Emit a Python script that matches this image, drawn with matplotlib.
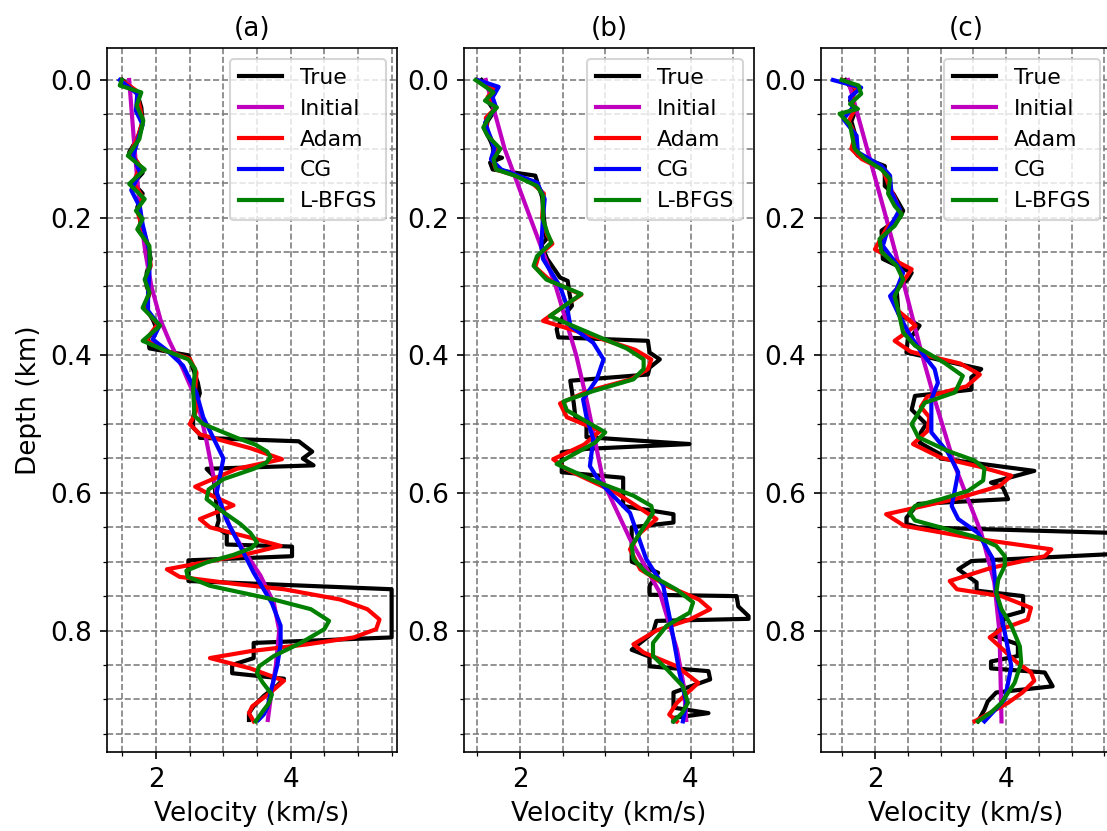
import matplotlib.pyplot as plt
from matplotlib.ticker import MultipleLocator

# ---------------- panel (a) ----------------
a_true_z = [0.000, 0.010, 0.020, 0.040, 0.060, 0.080, 0.095, 0.105, 0.120, 0.135, 0.150, 0.165,
            0.185, 0.200, 0.220, 0.240, 0.260, 0.280, 0.300, 0.310, 0.330, 0.350, 0.360, 0.375,
            0.390, 0.400, 0.420, 0.440, 0.455, 0.470, 0.490, 0.505, 0.515, 0.520, 0.525, 0.540,
            0.550, 0.560, 0.565, 0.575, 0.600, 0.620, 0.640, 0.650, 0.660, 0.675, 0.678, 0.692,
            0.698, 0.728, 0.740, 0.810, 0.818, 0.840, 0.850, 0.862, 0.870, 0.880, 0.895, 0.910,
            0.920, 0.930]
a_true_v = [1.50, 1.62, 1.72, 1.78, 1.80, 1.74, 1.66, 1.60, 1.72, 1.80, 1.66, 1.80,
            1.72, 1.76, 1.78, 1.88, 1.92, 1.86, 1.86, 1.90, 1.84, 1.96, 2.00, 1.88,
            1.90, 2.48, 2.55, 2.62, 2.65, 2.60, 2.55, 2.55, 2.65, 2.65, 4.12, 4.32,
            4.18, 4.34, 2.75, 2.85, 2.88, 2.90, 2.93, 2.90, 3.05, 3.05, 4.02, 4.02,
            2.48, 2.48, 5.50, 5.50, 3.45, 3.45, 3.13, 3.13, 3.90, 3.80, 3.60, 3.45,
            3.38, 3.38]

a_init_z = [0.00, 0.10, 0.20, 0.25, 0.30, 0.35, 0.38, 0.42, 0.47, 0.52, 0.55, 0.60, 0.65,
            0.68, 0.72, 0.76, 0.80, 0.85, 0.90, 0.93]
a_init_v = [1.60, 1.68, 1.77, 1.84, 1.93, 2.07, 2.20, 2.40, 2.62, 2.74, 2.80, 2.90, 3.10,
            3.28, 3.55, 3.75, 3.83, 3.78, 3.70, 3.66]

a_adam_z = [0.000, 0.015, 0.040, 0.060, 0.085, 0.105, 0.125, 0.150, 0.170, 0.190, 0.210, 0.240,
            0.270, 0.290, 0.310, 0.330, 0.355, 0.378, 0.392, 0.405, 0.425, 0.450, 0.470, 0.485,
            0.500, 0.515, 0.535, 0.551, 0.565, 0.591, 0.605, 0.618, 0.638, 0.650, 0.665, 0.677,
            0.690, 0.711, 0.722, 0.732, 0.740, 0.755, 0.769, 0.784, 0.798, 0.810, 0.820, 0.830,
            0.840, 0.855, 0.873, 0.890, 0.910, 0.920, 0.932]
a_adam_v = [1.48, 1.70, 1.76, 1.80, 1.72, 1.62, 1.76, 1.66, 1.80, 1.72, 1.78, 1.88,
            1.92, 1.84, 1.90, 1.82, 2.02, 1.85, 2.10, 2.50, 2.60, 2.58, 2.62, 2.58,
            2.50, 2.65, 3.40, 3.87, 3.20, 2.58, 2.85, 3.15, 2.65, 2.80, 3.40, 3.85,
            3.30, 2.16, 2.35, 3.15, 3.90, 4.74, 5.14, 5.32, 5.27, 4.94, 4.25, 3.40,
            2.80, 3.40, 3.90, 3.70, 3.43, 3.38, 3.45]

a_cg_z = [0.000, 0.020, 0.045, 0.065, 0.090, 0.110, 0.135, 0.160, 0.185, 0.210, 0.250, 0.280,
          0.310, 0.335, 0.357, 0.377, 0.392, 0.415, 0.455, 0.490, 0.520, 0.550, 0.600, 0.640,
          0.687, 0.716, 0.760, 0.793, 0.820, 0.851, 0.890, 0.910, 0.922, 0.930]
a_cg_v = [1.46, 1.72, 1.70, 1.80, 1.72, 1.66, 1.76, 1.63, 1.76, 1.80, 1.90, 1.90,
          1.88, 1.88, 2.05, 1.95, 2.15, 2.40, 2.60, 2.70, 2.85, 3.00, 2.90, 3.05,
          3.30, 3.45, 3.72, 3.85, 3.85, 3.80, 3.70, 3.66, 3.60, 3.52]

a_lbfgs_z = [0.000, 0.008, 0.018, 0.037, 0.059, 0.086, 0.110, 0.130, 0.151, 0.173, 0.190, 0.202,
             0.217, 0.241, 0.270, 0.290, 0.309, 0.331, 0.357, 0.379, 0.394, 0.406, 0.420, 0.450,
             0.488, 0.500, 0.510, 0.520, 0.530, 0.540, 0.548, 0.556, 0.565, 0.580, 0.595, 0.609,
             0.628, 0.645, 0.658, 0.672, 0.680, 0.690, 0.701, 0.713, 0.722, 0.735, 0.755, 0.769,
             0.786, 0.798, 0.818, 0.837, 0.852, 0.862, 0.875, 0.893, 0.905, 0.918, 0.932]
a_lbfgs_v = [1.49, 1.46, 1.78, 1.71, 1.81, 1.75, 1.58, 1.83, 1.60, 1.83, 1.70, 1.80,
             1.72, 1.90, 1.91, 1.83, 1.90, 1.80, 2.06, 1.80, 2.16, 2.48, 2.58, 2.55,
             2.57, 2.70, 2.95, 3.20, 3.48, 3.65, 3.70, 3.64, 3.45, 3.00, 2.78, 2.75,
             3.00, 3.25, 3.40, 3.50, 3.42, 3.15, 2.75, 2.45, 2.47, 2.80, 3.75, 4.30,
             4.57, 4.50, 4.15, 3.75, 3.53, 3.50, 3.58, 3.72, 3.68, 3.58, 3.48]

# ---------------- panel (b) ----------------
b_true_z = [0.000, 0.010, 0.020, 0.030, 0.045, 0.060, 0.075, 0.090, 0.100, 0.110, 0.113, 0.120,
            0.130, 0.139, 0.155, 0.170, 0.200, 0.231, 0.240, 0.260, 0.287, 0.292, 0.310, 0.328,
            0.345, 0.362, 0.374, 0.379, 0.396, 0.406, 0.418, 0.428, 0.437, 0.469, 0.490, 0.502,
            0.519, 0.529, 0.536, 0.541, 0.570, 0.578, 0.619, 0.631, 0.643, 0.650, 0.700, 0.716,
            0.735, 0.748, 0.750, 0.765, 0.779, 0.783, 0.786, 0.803, 0.828, 0.838, 0.852, 0.859,
            0.871, 0.890, 0.912, 0.920, 0.927, 0.932]
b_true_v = [1.55, 1.62, 1.70, 1.62, 1.70, 1.62, 1.60, 1.66, 1.69, 1.68, 1.79, 1.65,
            1.68, 2.18, 2.22, 2.26, 2.28, 2.31, 2.25, 2.32, 2.47, 2.56, 2.58, 2.61,
            2.50, 2.43, 2.45, 3.50, 3.52, 3.64, 3.52, 3.50, 2.59, 2.63, 2.65, 2.78,
            2.78, 3.99, 2.78, 2.49, 2.49, 3.21, 3.21, 3.80, 3.80, 3.31, 3.31, 3.62,
            3.52, 3.52, 4.54, 4.56, 4.68, 4.68, 3.60, 3.56, 3.31, 3.52, 3.52, 4.21,
            4.23, 3.80, 3.80, 4.21, 3.80, 3.80]

b_init_z = [0.00, 0.10, 0.20, 0.30, 0.40, 0.464, 0.50, 0.585, 0.667, 0.745, 0.827, 0.88, 0.93]
b_init_v = [1.60, 1.82, 2.12, 2.42, 2.66, 2.78, 2.84, 2.98, 3.29, 3.64, 3.84, 3.92, 3.95]

b_adam_z = [0.000, 0.012, 0.025, 0.040, 0.055, 0.075, 0.100, 0.115, 0.130, 0.145, 0.165, 0.200,
            0.225, 0.238, 0.255, 0.272, 0.292, 0.312, 0.330, 0.350, 0.372, 0.392, 0.406, 0.420,
            0.435, 0.452, 0.470, 0.490, 0.510, 0.530, 0.551, 0.566, 0.600, 0.638, 0.658, 0.682,
            0.711, 0.735, 0.755, 0.769, 0.784, 0.800, 0.820, 0.832, 0.852, 0.876, 0.905, 0.922,
            0.932]
b_adam_v = [1.50, 1.70, 1.62, 1.72, 1.60, 1.62, 1.72, 1.68, 1.72, 2.10, 2.28, 2.26,
            2.32, 2.38, 2.22, 2.18, 2.36, 2.72, 2.50, 2.27, 2.85, 3.35, 3.54, 3.50,
            3.30, 2.80, 2.47, 2.55, 2.94, 2.75, 2.39, 2.55, 3.13, 3.60, 3.41, 3.29,
            3.41, 3.72, 4.10, 4.23, 3.99, 3.60, 3.33, 3.45, 3.84, 4.09, 3.84, 3.75,
            3.84]

b_cg_z = [0.000, 0.010, 0.025, 0.040, 0.062, 0.085, 0.100, 0.115, 0.130, 0.149, 0.173, 0.200,
          0.241, 0.260, 0.300, 0.328, 0.357, 0.382, 0.406, 0.435, 0.464, 0.490, 0.522, 0.561,
          0.585, 0.629, 0.696, 0.735, 0.784, 0.861, 0.905, 0.932]
b_cg_v = [1.50, 1.75, 1.68, 1.72, 1.59, 1.66, 1.70, 1.66, 1.78, 2.20, 2.29, 2.27,
          2.25, 2.27, 2.47, 2.55, 2.59, 2.86, 2.98, 2.90, 2.74, 2.78, 2.86, 2.82,
          2.94, 3.29, 3.48, 3.68, 3.76, 3.87, 3.95, 3.91]

b_lbfgs_z = [0.000, 0.018, 0.030, 0.040, 0.049, 0.069, 0.081, 0.100, 0.115, 0.130, 0.139, 0.154,
             0.168, 0.202, 0.222, 0.236, 0.256, 0.270, 0.290, 0.311, 0.343, 0.372, 0.390, 0.406,
             0.420, 0.435, 0.452, 0.467, 0.480, 0.512, 0.527, 0.546, 0.558, 0.582, 0.604, 0.619,
             0.629, 0.648, 0.677, 0.696, 0.716, 0.740, 0.759, 0.774, 0.793, 0.818, 0.837, 0.856,
             0.881, 0.905, 0.920, 0.932]
b_lbfgs_v = [1.48, 1.69, 1.59, 1.73, 1.66, 1.57, 1.62, 1.77, 1.69, 1.72, 1.94, 2.20,
             2.27, 2.27, 2.32, 2.37, 2.20, 2.16, 2.31, 2.72, 2.35, 2.90, 3.25, 3.45,
             3.45, 3.33, 2.86, 2.51, 2.55, 3.00, 2.88, 2.60, 2.43, 2.86, 3.33, 3.54,
             3.56, 3.46, 3.31, 3.33, 3.48, 3.83, 4.03, 3.99, 3.72, 3.56, 3.56, 3.72,
             3.91, 3.97, 3.90, 3.80]

# ---------------- panel (c) ----------------
c_true_z = [0.000, 0.010, 0.020, 0.030, 0.045, 0.060, 0.080, 0.100, 0.110, 0.125, 0.154, 0.165,
            0.190, 0.200, 0.219, 0.260, 0.280, 0.290, 0.304, 0.340, 0.357, 0.370, 0.377, 0.396,
            0.420, 0.432, 0.450, 0.459, 0.479, 0.500, 0.512, 0.527, 0.544, 0.550, 0.568, 0.585,
            0.592, 0.609, 0.616, 0.636, 0.645, 0.650, 0.658, 0.689, 0.699, 0.711, 0.730, 0.742,
            0.750, 0.772, 0.779, 0.808, 0.820, 0.837, 0.845, 0.855, 0.861, 0.881, 0.890, 0.903,
            0.915, 0.932]
c_true_v = [1.55, 1.62, 1.68, 1.62, 1.70, 1.64, 1.70, 1.66, 1.74, 2.15, 2.15, 2.28,
            2.43, 2.38, 2.10, 2.12, 2.56, 2.50, 2.33, 2.36, 2.68, 2.58, 2.50, 2.48,
            3.62, 3.47, 3.47, 2.61, 2.56, 2.78, 2.70, 2.68, 3.00, 3.00, 4.43, 3.77,
            3.95, 4.03, 2.66, 2.48, 2.48, 2.66, 5.60, 5.60, 3.47, 3.27, 3.55, 3.55,
            4.26, 4.26, 4.00, 3.82, 4.18, 4.18, 3.77, 3.77, 4.59, 4.71, 3.85, 3.72,
            3.67, 3.57]

c_init_z = [0.00, 0.10, 0.20, 0.30, 0.40, 0.464, 0.561, 0.658, 0.730, 0.803, 0.932]
c_init_v = [1.59, 1.88, 2.17, 2.45, 2.72, 2.91, 3.22, 3.62, 3.82, 3.90, 3.93]

c_adam_z = [0.000, 0.012, 0.025, 0.045, 0.060, 0.080, 0.100, 0.115, 0.130, 0.150, 0.175, 0.195,
            0.215, 0.246, 0.262, 0.275, 0.290, 0.310, 0.335, 0.357, 0.379, 0.395, 0.412, 0.428,
            0.445, 0.460, 0.475, 0.490, 0.510, 0.529, 0.549, 0.562, 0.575, 0.590, 0.609, 0.631,
            0.648, 0.667, 0.682, 0.692, 0.709, 0.728, 0.740, 0.750, 0.767, 0.784, 0.798, 0.810,
            0.823, 0.845, 0.861, 0.873, 0.890, 0.905, 0.932]
c_adam_v = [1.50, 1.72, 1.65, 1.68, 1.60, 1.70, 1.64, 1.80, 2.12, 2.20, 2.32, 2.40,
            2.18, 2.00, 2.30, 2.56, 2.45, 2.28, 2.35, 2.62, 2.30, 2.55, 3.30, 3.60,
            3.40, 2.80, 2.70, 2.83, 2.80, 2.58, 3.01, 3.60, 4.08, 3.90, 3.22, 2.17,
            2.45, 3.57, 4.69, 4.59, 3.77, 3.14, 3.25, 3.93, 4.38, 4.33, 3.93, 3.75,
            3.90, 4.15, 4.38, 4.43, 4.25, 4.03, 3.52]

c_cg_z = [0.000, 0.011, 0.025, 0.040, 0.057, 0.081, 0.105, 0.125, 0.139, 0.163, 0.188, 0.222,
          0.241, 0.280, 0.304, 0.314, 0.338, 0.367, 0.396, 0.420, 0.440, 0.464, 0.512, 0.541,
          0.570, 0.595, 0.619, 0.638, 0.658, 0.696, 0.745, 0.803, 0.852, 0.900, 0.932]
c_cg_v = [1.36, 1.79, 1.62, 1.66, 1.52, 1.72, 1.74, 2.10, 2.23, 2.25, 2.38, 2.18,
          2.12, 2.43, 2.33, 2.23, 2.35, 2.51, 2.71, 2.91, 2.96, 2.86, 2.86, 3.11,
          3.27, 3.22, 3.17, 3.27, 3.57, 3.80, 3.85, 3.98, 4.08, 3.98, 3.67]

c_lbfgs_z = [0.000, 0.008, 0.020, 0.035, 0.042, 0.049, 0.065, 0.100, 0.115, 0.130, 0.144, 0.165,
             0.183, 0.195, 0.212, 0.231, 0.250, 0.270, 0.290, 0.314, 0.333, 0.367, 0.386, 0.411,
             0.430, 0.454, 0.469, 0.500, 0.519, 0.539, 0.553, 0.565, 0.582, 0.597, 0.609, 0.619,
             0.629, 0.640, 0.653, 0.665, 0.677, 0.692, 0.706, 0.726, 0.745, 0.769, 0.793, 0.823,
             0.847, 0.876, 0.905, 0.919, 0.932]
c_lbfgs_v = [1.49, 1.75, 1.79, 1.62, 1.74, 1.46, 1.62, 1.69, 1.85, 2.10, 2.23, 2.20,
             2.30, 2.41, 2.30, 2.07, 2.10, 2.33, 2.43, 2.30, 2.35, 2.43, 2.61, 3.06,
             3.34, 3.22, 2.76, 2.56, 2.66, 3.11, 3.52, 3.67, 3.65, 3.42, 3.01, 2.61,
             2.53, 2.61, 3.11, 3.57, 3.85, 3.98, 3.98, 3.88, 3.85, 3.93, 4.08, 4.21,
             4.23, 4.13, 3.93, 3.77, 3.57]

titles = ["(a)", "(b)", "(c)"]
labels = ["True", "Initial", "Adam", "CG", "L-BFGS"]
colors = ["k", "m", "r", "b", "g"]
xlims = [(1.27, 5.58), (1.344, 4.744), (1.177, 5.60)]

panels = [
    [(a_true_z, a_true_v), (a_init_z, a_init_v), (a_adam_z, a_adam_v),
     (a_cg_z, a_cg_v), (a_lbfgs_z, a_lbfgs_v)],
    [(b_true_z, b_true_v), (b_init_z, b_init_v), (b_adam_z, b_adam_v),
     (b_cg_z, b_cg_v), (b_lbfgs_z, b_lbfgs_v)],
    [(c_true_z, c_true_v), (c_init_z, c_init_v), (c_adam_z, c_adam_v),
     (c_cg_z, c_cg_v), (c_lbfgs_z, c_lbfgs_v)],
]

W, H = 1107, 831
fig = plt.figure(figsize=(W / 150, H / 150), dpi=150)
lefts = [107, 464, 821]

for i, curves in enumerate(panels):
    ax = fig.add_axes([lefts[i] / W, 79 / H, 290 / W, 704 / H])
    for (z, v), lab, col in zip(curves, labels, colors):
        ax.plot(v, z, color=col, lw=2, label=lab)
    ax.set_xlim(*xlims[i])
    ax.set_ylim(0.9765, -0.0465)
    ax.xaxis.set_major_locator(MultipleLocator(2))
    ax.xaxis.set_minor_locator(MultipleLocator(0.5))
    ax.yaxis.set_major_locator(MultipleLocator(0.2))
    ax.yaxis.set_minor_locator(MultipleLocator(0.05))
    ax.grid(which="both", linestyle="--", color="gray", linewidth=0.8)
    ax.set_axisbelow(True)
    ax.tick_params(labelsize=12.6)
    ax.set_title(titles[i], fontsize=12.6)
    ax.set_xlabel("Velocity (km/s)", fontsize=12.6)
    if i == 0:
        ax.set_ylabel("Depth (km)", fontsize=12.6)
    ax.legend(loc="upper right", fontsize=10.5)

plt.savefig("out.png", dpi=150)
plt.close()
